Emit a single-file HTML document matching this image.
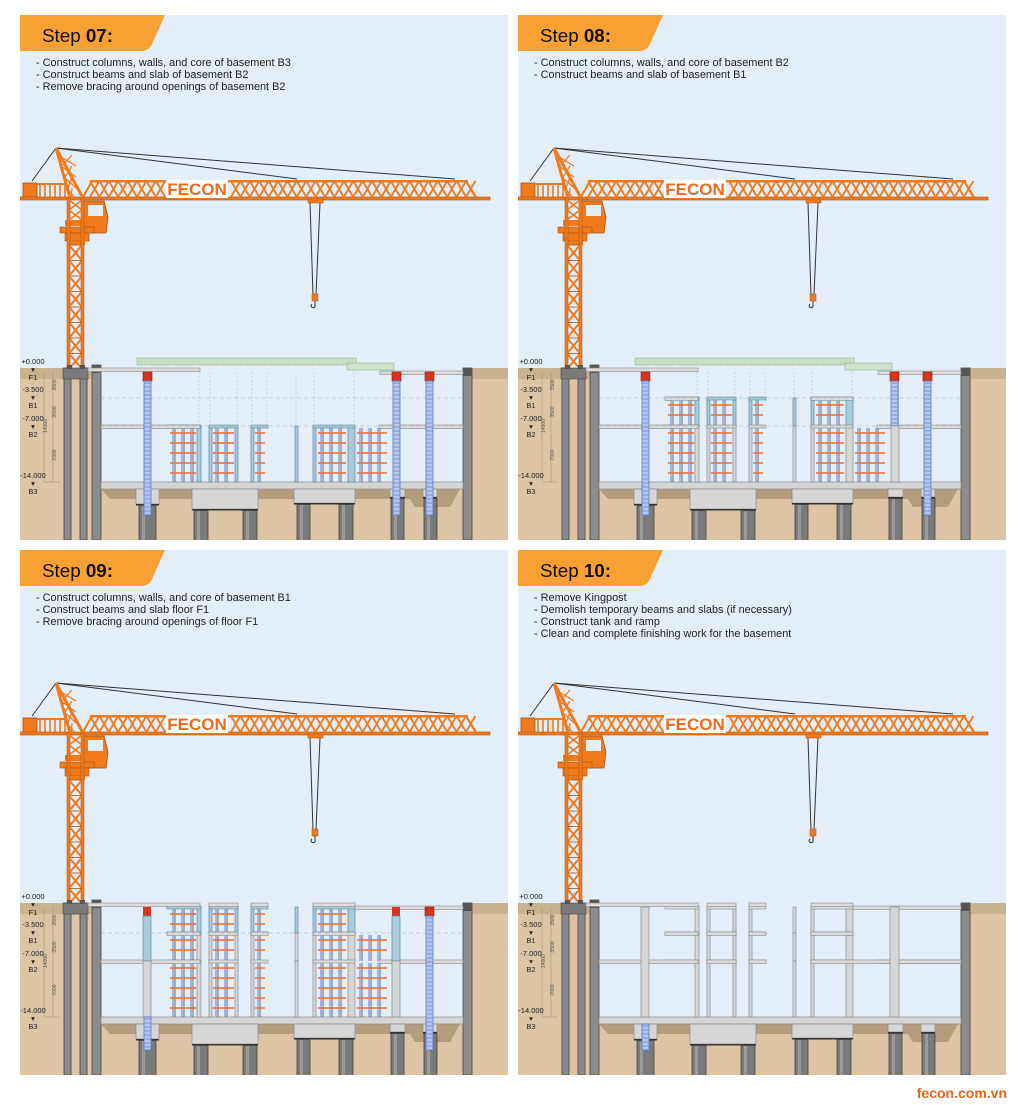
<!DOCTYPE html>
<html><head><meta charset="utf-8">
<style>
body{margin:0;width:1024px;height:1105px;background:#fff;position:relative;overflow:hidden;font-family:"Liberation Sans",sans-serif}
.p{position:absolute;width:488px;height:525px;background:#e3eef9;overflow:hidden}
.p svg{position:absolute;left:0;top:0}
.h{position:absolute;left:22px;top:10px;font-size:18.8px;color:#111;z-index:2}
.h b{font-weight:bold}
.t{position:absolute;left:16px;top:42px;font-size:10.9px;line-height:12px;color:#222;z-index:2}
.lv{position:absolute;left:0;width:26px;text-align:center;font-size:7.5px;color:#222;z-index:2;line-height:8px}
.foot{position:absolute;right:17px;top:1085px;font-size:14px;font-weight:bold;color:#e8641c}
</style></head><body>

<div class="p" id="p1" style="left:20px;top:15px">
<div class="h">Step <b>07:</b></div>
<div class="t">- Construct columns, walls, and core of basement B3<br>- Construct beams and slab of basement B2<br>- Remove bracing around openings of basement B2</div>
<div class="lv" style="top:343px">+0.000<br>▾<br>F1</div><div class="lv" style="top:371px">-3.500<br>▾<br>B1</div><div class="lv" style="top:400px">-7.000<br>▾<br>B2</div><div class="lv" style="top:457px">-14.000<br>▾<br>B3</div>
</div>
<div class="p" id="p2" style="left:518px;top:15px">
<div class="h">Step <b>08:</b></div>
<div class="t">- Construct columns, walls, and core of basement B2<br>- Construct beams and slab of basement B1</div>
<div class="lv" style="top:343px">+0.000<br>▾<br>F1</div><div class="lv" style="top:371px">-3.500<br>▾<br>B1</div><div class="lv" style="top:400px">-7.000<br>▾<br>B2</div><div class="lv" style="top:457px">-14.000<br>▾<br>B3</div>
</div>
<div class="p" id="p3" style="left:20px;top:550px">
<div class="h">Step <b>09:</b></div>
<div class="t">- Construct columns, walls, and core of basement B1<br>- Construct beams and slab floor F1<br>- Remove bracing around openings of floor F1</div>
<div class="lv" style="top:343px">+0.000<br>▾<br>F1</div><div class="lv" style="top:371px">-3.500<br>▾<br>B1</div><div class="lv" style="top:400px">-7.000<br>▾<br>B2</div><div class="lv" style="top:457px">-14.000<br>▾<br>B3</div>
</div>
<div class="p" id="p4" style="left:518px;top:550px">
<div class="h">Step <b>10:</b></div>
<div class="t">- Remove Kingpost<br>- Demolish temporary beams and slabs (if necessary)<br>- Construct tank and ramp<br>- Clean and complete finishing work for the basement</div>
<div class="lv" style="top:343px">+0.000<br>▾<br>F1</div><div class="lv" style="top:371px">-3.500<br>▾<br>B1</div><div class="lv" style="top:400px">-7.000<br>▾<br>B2</div><div class="lv" style="top:457px">-14.000<br>▾<br>B3</div>
</div>
<div class="foot">fecon.com.vn</div>

<script>
function R(x,y,w,h,f,s,sw){return `<rect x="${x}" y="${y}" width="${w}" height="${h}" fill="${f}"${s?` stroke="${s}" stroke-width="${sw||0.8}"`:''}/>`;}
function L(x1,y1,x2,y2,c,w,d){return `<line x1="${x1}" y1="${y1}" x2="${x2}" y2="${y2}" stroke="${c}" stroke-width="${w||1}"${d?` stroke-dasharray="${d}"`:''}/>`;}
const OR='#f07a1c',OD='#a9500e',CON='#d6d6d6',CS='#8a8a8a';
function crane(){
 let s='';
 s+=L(36,133,277,164,'#333',1)+L(36,133,435,164,'#333',1)+L(36,133,12,166,'#333',1);
 s+=R(3,168,14,16,OR,OD)+R(17,168,30,2,OR);
 for(let x=20;x<46;x+=5)s+=L(x,169,x,182,OR,1.6);
 s+=R(0,182,470,3,OR,OD,0.6);
 s+=R(70,165,378,2.5,OR);
 for(let x=70;x<446;x+=9.4){ if(x>142&&x<208)continue; s+=L(x,166,x+9.4,182,OR,1.8)+L(x,182,x+9.4,166,OR,1.8);}
 s+=L(63,182,72,166,OR,2)+L(446,166,456,182,OR,2);
 s+=R(146,165,62,18,'#fff')+`<text x="177" y="180" text-anchor="middle" font-family="Liberation Sans" font-weight="bold" font-size="17" fill="#ef6a1e">FECON</text>`;
 s+=L(36,133,50,183,OR,3)+L(36,133,63,183,OR,3);
 for(let i=0;i<4;i++){let y=140+i*11;s+=L(38+i*3,y,56,y+11,OR,1.2)+L(52,y,42+i*3,y+11,OR,1.2);}
 s+=`<path d="M63 186 H84 L88 202 L86 218 H63 Z" fill="${OR}" stroke="${OD}" stroke-width=".8"/>`+R(68,190,15,11,'#e3eef9');
 s+=R(45,205,18,6,OR)+R(40,212,34,6,OR,OD,.6)+R(45,218,24,8,OR,OD,.6)+R(48,226,17,4,OR);
 s+=R(47,183,3,170,OR,OD,.5)+R(61,183,3,170,OR,OD,.5);
 for(let y=230;y<350;y+=15.5){s+=L(49,y,62,y+15.5,OR,2)+L(62,y,49,y+15.5,OR,2)+L(49,y,62,y,OD,.8);}
 for(let y=185;y<205;y+=10){s+=L(49,y,62,y+10,OR,1.6)+L(62,y,49,y+10,OR,1.6);}
 s+=R(47,350,5,4,'#555')+R(60,350,5,4,'#555');
 s+=R(288,184,15,4,OR,OD,.5)+L(290,188,293,280,'#333',1)+L(300,188,296,280,'#333',1)+R(292,279,6,7,OR,OD,.5);
 s+=`<path d="M295 286 v4 a2 2 0 1 1 -3 -1" fill="none" stroke="#333" stroke-width="1"/>`;
 return s;
}
function kp(x,y1,y2,cap){let s='';if(cap)s+=R(x-1,y1,9,9,'#d8341c','#8a1a0a',.6);let a=cap?y1+9:y1;s+=R(x,a,7,y2-a,'#b3c6ec','#5a78c8',.8);for(let y=a+2;y<y2;y+=4)s+=L(x,y,x+7,y,'#5a78c8',.6);return s;}
function cage(x1,x2,y1,y2){let s='';for(let x=x1+4;x<x2-2;x+=9)s+=L(x,y1,x,y2,'#7d9ae0',1.3)+L(x+2,y1,x+2,y2,'#333',.7);for(let y=y1+5;y<y2-2;y+=10)s+=L(x1+1,y,x2-1,y,'#f26b2a',1.4);return s;}
function base(){
 let s=R(0,0,488,525,'#e3eef9');
 s+=R(0,353,488,172,'#dcc4a4')+R(0,353,488,11,'#c9b290');
 s+=R(81,353,362,114,'#e3eef9');
 s+=L(24,357,24,467,'#a89478',.6)+L(33,357,33,467,'#a89478',.6)+L(24,467,40,467,'#a89478',.6);
 [['3500',370],['3500',397],['7000',440],['14000',411]].forEach((t,i)=>{let x=i==3?27:36;s+=`<text x="${x}" y="${t[1]}" font-size="5" fill="#555" transform="rotate(-90 ${x} ${t[1]})" text-anchor="middle">${t[0]}</text>`;});
 s+=R(44,353,7,172,'#8a8a8a','#444',.8)+R(60,353,7,172,'#8a8a8a','#444',.8)+R(43,353,25,11,'#7a7a7a','#444',.6);
 s+=R(72,350,9,175,'#8c8c8c','#444',.8)+R(443,353,9,172,'#8c8c8c','#444',.8)+R(72,350,9,8,'#555')+R(443,353,9,8,'#555');
 s+=`<path d="M81 474 H440 L430 492 H395 L390 484 H90 Z" fill="#b49d7d"/>`;
 s+=R(81,467,362,7,CON,CS,.7);
 [[116,23,15,[[119,17]]],[172,66,20,[[174,14],[223,14]]],[274,61,14,[[277,13],[319,14]]],[370,15,8,[[371,13]]],[403,14,8,[[404,13]]]].forEach(c=>{s+=R(c[0],474,c[1],c[2],CON,CS,.7)+R(c[0],474+c[2],c[1],1.5,'#333');c[3].forEach(p=>s+=R(p[0],475.5+c[2],p[1],60,'#7a7a7a','#444',.8)+R(p[0]+3,476+c[2],3,50,'#9a9a9a'));});
 return s;
}
function slab(x1,x2,y){return R(x1,y,x2-x1,3.5,'#dcdcdc','#888',.6);}
function wall(x,w,y1,y2,c){return R(x,y1,w,y2-y1,c=='b'?'#a9cbdc':CON,c=='b'?'#5e8aa0':CS,.7);}
function frames(step){
 let s='';
 const lv=[[357,383],[383,411],[411,467]];
 const st={7:[0,0,1],8:[0,1,2],9:[1,2,2],10:[3,3,3]}[step];
 lv.forEach((l,i)=>{const k=st[i];if(!k)return;const c=k==1?'b':'g';const [a,b]=l;
  if(k<3){s+=cage(149,177,a+2,b)+cage(192,215,a+2,b)+cage(234,246,a+2,b)+cage(297,327,a+2,b);if(i==2||(i==1&&step==9))s+=cage(336,368,a+2,b);}
  s+=wall(177,4,a,b,c)+wall(189,3,a,b,c)+wall(215,3,a,b,c)+wall(231,3,a,b,c)+wall(275,3,a,b,c)+wall(293,3,a,b,c)+wall(328,7,a,b,c);
  const f=c=='b'?'#a9cbdc':'#dcdcdc',st2=c=='b'?'#5e8aa0':'#888';
  s+=R(147,a-1,34,3,f,st2,.6)+R(189,a-1,29,3,f,st2,.6)+R(231,a-1,17,3,f,st2,.6)+R(293,a-1,42,3,f,st2,.6);
 });
 s+=slab(68,180,353);
 if(step>=9)s+=slab(189,218,353)+slab(231,248,353)+slab(293,335,353)+slab(335,443,356);else s+=slab(360,443,356);
 s+=slab(81,180,410)+slab(359,443,410);
 if(step>=8)s+=slab(147,180,382)+slab(293,335,382);
 if(step>=9)s+=slab(189,218,382)+slab(231,248,382);
 if(step==10)s+=slab(189,218,410)+slab(231,248,410)+slab(293,443,410);
 if(step<10){s+=L(81,383,443,383,'#aaa',.6,'4 3');if(step<9)s+=L(81,411,443,411,'#aaa',.6,'4 3');}
 if(step<9){ for(const x of [179,190,217,232,247,276,294,334])s+=L(x,357,x,step==7?411:383,'#bbb',.6,'2 2');
  s+=R(117,343,219,7,'#cfe3cf','#8ab88a',.6)+R(327,348,47,7,'#cfe3cf','#8ab88a',.6);
  for(let x=119;x<335;x+=3)s+=L(x,343,x,350,'#9cc79c',.5);}
 if(step==7){s+=kp(124,357,500,1)+kp(373,357,500,1)+kp(406,357,500,1);}
 if(step==8){s+=kp(124,357,500,1)+R(373,357,8,54,'#b3c6ec')+kp(373,357,411,1)+R(373,411,8,56,CON,CS,.7)+kp(406,357,500,1);}
 if(step==9){s+=R(123,357,8,9,'#d8341c')+R(123,366,8,45,'#a9cbdc','#5e8aa0',.7)+R(123,411,8,56,CON,CS,.7)+kp(124,467,500,0)+R(372,357,8,9,'#d8341c')+R(372,366,8,45,'#a9cbdc','#5e8aa0',.7)+R(372,411,8,56,CON,CS,.7)+kp(406,357,500,1);}
 if(step==10){s+=R(123,357,8,110,CON,CS,.7)+R(372,357,9,110,CON,CS,.7)+kp(124,474,500,0);}
 return s;
}
[[1,7],[2,8],[3,9],[4,10]].forEach(([i,st])=>{
 const p=document.getElementById('p'+i);
 const svg=`<svg width="488" height="525" xmlns="http://www.w3.org/2000/svg">${base()}${frames(st)}${crane()}<path d="M0 0 H145 L132 29 Q129 36 121 36 H0 Z" fill="#f7a034"/></svg>`;
 p.insertAdjacentHTML('afterbegin',svg);
});
</script>
</body></html>
